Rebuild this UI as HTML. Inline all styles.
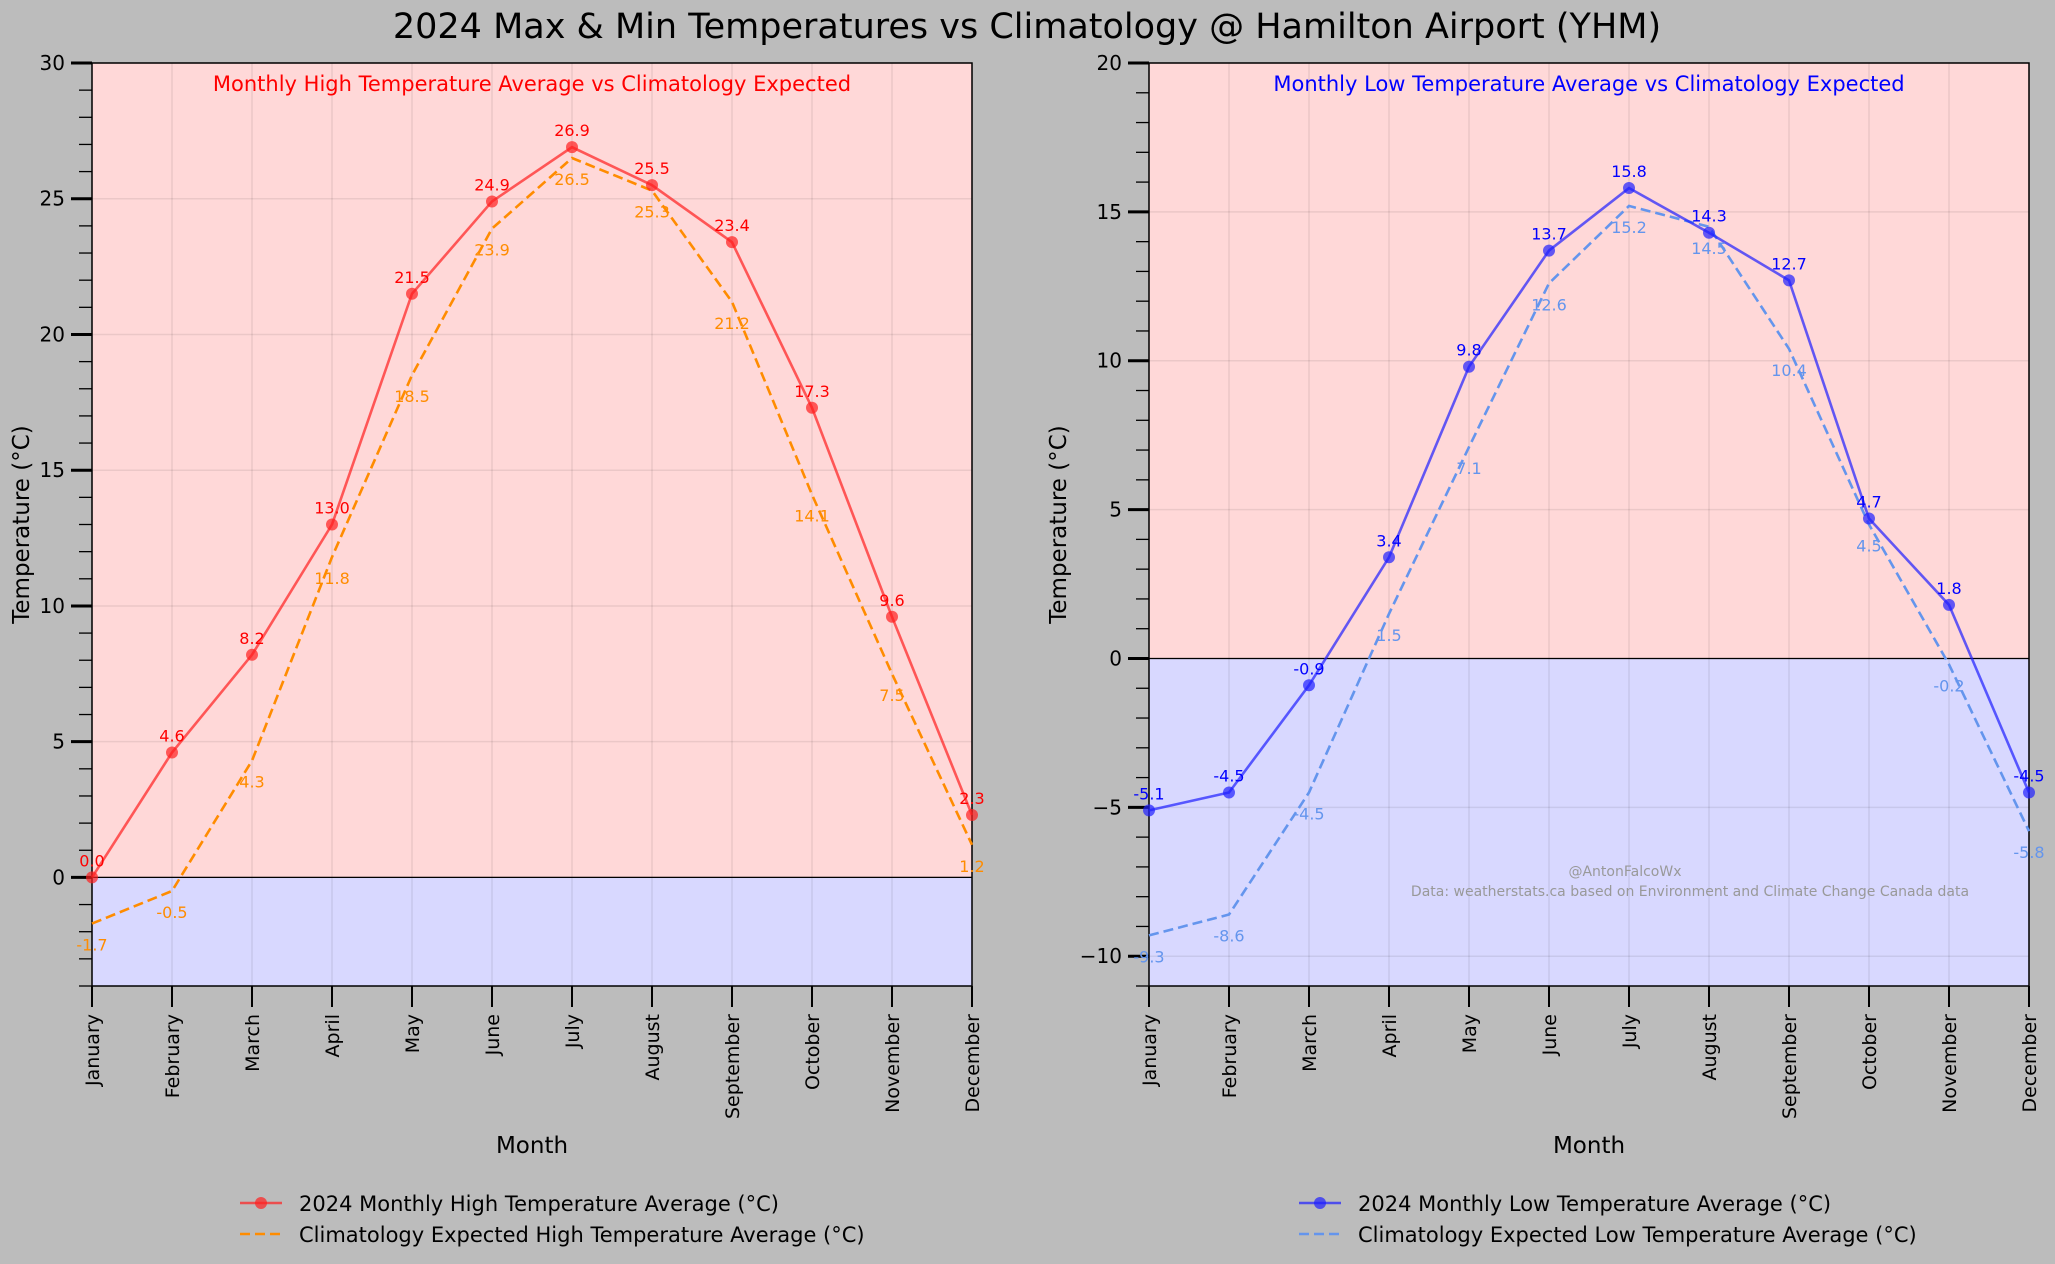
<!DOCTYPE html>
<html><head><meta charset="utf-8"><style>
html,body{margin:0;padding:0;background:#bcbcbc;}
svg{display:block;font-family:"DejaVu Sans","Liberation Sans",sans-serif;}
</style></head><body>
<svg id="c" width="2055" height="1264" viewBox="0 0 2055 1264" xmlns="http://www.w3.org/2000/svg">
<rect width="2055" height="1264" fill="#bcbcbc"/>
<text x="1027" y="38" font-size="35" text-anchor="middle" fill="#000">2024 Max &amp; Min Temperatures vs Climatology @ Hamilton Airport (YHM)</text>
</svg>
<script>
const months=["January","February","March","April","May","June","July","August","September","October","November","December"];
const highActual=[0.0,4.6,8.2,13.0,21.5,24.9,26.9,25.5,23.4,17.3,9.6,2.3];
const highClim=[-1.7,-0.5,4.3,11.8,18.5,23.9,26.5,25.3,21.2,14.1,7.5,1.2];
const lowActual=[-5.1,-4.5,-0.9,3.4,9.8,13.7,15.8,14.3,12.7,4.7,1.8,-4.5];
const lowClim=[-9.3,-8.6,-4.5,1.5,7.1,12.6,15.2,14.5,10.4,4.5,-0.2,-5.8];
const highTicks=[0,5,10,15,20,25,30];
const lowTicks=[-10,-5,0,5,10,15,20];
const NS="http://www.w3.org/2000/svg";
const svg=document.getElementById('c');
function el(tag,attrs,parent,text){const e=document.createElementNS(NS,tag);for(const k in attrs)e.setAttribute(k,attrs[k]);if(text!==undefined)e.textContent=text;(parent||svg).appendChild(e);return e;}
function panel(o){
  const g=el('g',{});
  
  
  const L=o.x0,R=o.x1,T=63,B=986;
  const xs=i=>L+(R-L)*i/11;
  const ys=v=>B-(v-o.ymin)/(o.ymax-o.ymin)*(B-T);
  const z=ys(0);
  const warm=el('rect',{x:L,y:T,width:R-L,height:z-T,fill:'#ffd8d8'},g);
  
  
  const cold=el('rect',{x:L,y:z,width:R-L,height:B-z,fill:'#d8d8ff'},g);
  
  
  months.forEach((m,i)=>{const l=el('line',{x1:xs(i),x2:xs(i),y1:T,y2:B,stroke:'#000','stroke-opacity':0.08,'stroke-width':1.5},g);
    
    });
  o.ticks.forEach(t=>{const l=el('line',{x1:L,x2:R,y1:ys(t),y2:ys(t),stroke:'#000','stroke-opacity':0.08,'stroke-width':1.5},g);
    
    });
  const zl=el('line',{x1:L,x2:R,y1:z,y2:z,stroke:'#000','stroke-width':1.3},g);
  
  
  for(let v=Math.ceil(o.ymin);v<=o.ymax;v++){
    const major=o.ticks.includes(v);
    const t=el('line',{x1:L-(major?21:13),x2:L,y1:ys(v),y2:ys(v),stroke:'#000','stroke-width':major?3:1.3},g);
    
    
  }
  o.ticks.forEach(t=>{const tx=el('text',{x:L-27,y:ys(t)+7,'font-size':20,'text-anchor':'end',fill:'#000'},g,t<0?'\u2212'+(-t):String(t));
    
    });
  months.forEach((m,i)=>{
    const t=el('line',{x1:xs(i),x2:xs(i),y1:B,y2:B+21,stroke:'#000','stroke-width':2},g);
    
    
    const tx=el('text',{x:0,y:0,'font-size':19,'text-anchor':'end',fill:'#000',transform:`translate(${xs(i)+7},${B+28}) rotate(-90)`},g,m);
    
    
  });
  const fr=el('rect',{x:L,y:T,width:R-L,height:B-T,fill:'none',stroke:'#000','stroke-width':1.5},g);
  
  
  const cp=el('polyline',{points:o.clim.map((v,i)=>xs(i)+','+ys(v)).join(' '),fill:'none',stroke:o.cc,'stroke-width':2.6,'stroke-dasharray':'10,5'},g);
  
  
  const ap=el('polyline',{points:o.act.map((v,i)=>xs(i)+','+ys(v)).join(' '),fill:'none',stroke:o.ac,'stroke-width':2.6,'stroke-opacity':0.7},g);
  
  
  o.act.forEach((v,i)=>{const c=el('circle',{cx:xs(i),cy:ys(v),r:6,fill:o.ac,'fill-opacity':0.7},g);
    
    
    const t=el('text',{x:xs(i),y:ys(v)-11,'font-size':16,'text-anchor':'middle',fill:o.atc},g,v.toFixed(1));
    
    });
  o.clim.forEach((v,i)=>{const t=el('text',{x:xs(i),y:ys(v)+27,'font-size':16,'text-anchor':'middle',fill:o.cc},g,v.toFixed(1));
    
    });
  const st=el('text',{x:(L+R)/2,y:91,'font-size':21,'text-anchor':'middle',fill:o.atc},g,o.sub);
  
  
  const yl=el('text',{x:0,y:0,'font-size':23,'text-anchor':'middle',fill:'#000',transform:`translate(${o.ylx},${(T+B)/2}) rotate(-90)`},g,'Temperature (°C)');
  
  
  const xl=el('text',{x:(L+R)/2,y:1153,'font-size':23,'text-anchor':'middle',fill:'#000'},g,'Month');
  
  
  const lg=el('g',{},g);
  
  
  el('line',{x1:o.lx,x2:o.lx+42,y1:1203,y2:1203,stroke:o.ac,'stroke-width':2.6,'stroke-opacity':0.7},lg);
  el('circle',{cx:o.lx+21,cy:1203,r:6,fill:o.ac,'fill-opacity':0.7},lg);
  const l1=el('text',{x:o.lx+59,y:1211,'font-size':21,fill:'#000'},lg,o.l1);
  
  
  el('line',{x1:o.lx,x2:o.lx+42,y1:1234,y2:1234,stroke:o.cc,'stroke-width':2.6,'stroke-dasharray':'10,5'},lg);
  const l2=el('text',{x:o.lx+59,y:1242,'font-size':21,fill:'#000'},lg,o.l2);
  
  
  return g;
}
panel({name:'high-temperature-panel',x0:92,x1:972,ymin:-4,ymax:30,ticks:highTicks,act:highActual,clim:highClim,ac:'#ff2020',atc:'#ff0000',cc:'#ff8c00',sub:'Monthly High Temperature Average vs Climatology Expected',ylx:29,lx:240,l1:'2024 Monthly High Temperature Average (°C)',l2:'Climatology Expected High Temperature Average (°C)'});
panel({name:'low-temperature-panel',x0:1149,x1:2029,ymin:-11,ymax:20,ticks:lowTicks,act:lowActual,clim:lowClim,ac:'#2020ff',atc:'#0000ff',cc:'#6495ed',sub:'Monthly Low Temperature Average vs Climatology Expected',ylx:1066,lx:1299,l1:'2024 Monthly Low Temperature Average (°C)',l2:'Climatology Expected Low Temperature Average (°C)'});
const w1=el('text',{x:1625,y:876,'font-size':14,'text-anchor':'middle',fill:'#999'},svg,'@AntonFalcoWx');


const w2=el('text',{x:1690,y:896,'font-size':14,'text-anchor':'middle',fill:'#999'},svg,'Data: weatherstats.ca based on Environment and Climate Change Canada data');


</script>
</body></html>
